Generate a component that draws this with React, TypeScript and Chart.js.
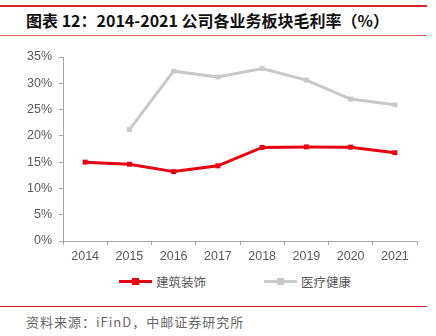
import React, { useEffect, useRef } from 'react';
import { Chart, registerables } from 'chart.js';

Chart.register(...registerables);

const years = ['2014', '2015', '2016', '2017', '2018', '2019', '2020', '2021'];
const construction = [15.0, 14.6, 13.2, 14.3, 17.8, 17.9, 17.85, 16.8];
const healthcare = [null, 21.2, 32.3, 31.2, 32.8, 30.6, 27.0, 25.9];
const seriesNames = ['建筑装饰', '医疗健康'];
const yMin = 0;
const yMax = 35;
const yStep = 5;
const titleText = '图表 12：2014-2021 公司各业务板块毛利率（%）';
const sourceText = '资料来源：iFinD，中邮证券研究所';

const RED = '#e60012';
const GRAY = '#c9c9c9';
const AXIS = '#a6a6a6';
const TEXT = '#595959';

function LegendIcon({ color }: { color: string }) {
  return (
    <span style={{ position: 'relative', display: 'inline-block', width: 33, height: 9, marginRight: 4 }}>
      <span style={{ position: 'absolute', left: 0, top: 3, width: 33, height: 3, background: color }} />
      <span style={{ position: 'absolute', left: 13, top: 1, width: 7, height: 7, background: color }} />
    </span>
  );
}

export default function App() {
  const ref = useRef<HTMLCanvasElement | null>(null);

  useEffect(() => {
    if (!ref.current) return;
    const chart = new Chart(ref.current, {
      type: 'line',
      data: {
        labels: years,
        datasets: [
          {
            label: seriesNames[0],
            data: construction,
            borderColor: RED,
            backgroundColor: RED,
            borderWidth: 3,
            pointStyle: 'rect',
            pointRadius: 3.5,
            pointBorderWidth: 0,
            tension: 0,
          },
          {
            label: seriesNames[1],
            data: healthcare,
            borderColor: GRAY,
            backgroundColor: GRAY,
            borderWidth: 3,
            pointStyle: 'rect',
            pointRadius: 3.5,
            pointBorderWidth: 0,
            tension: 0,
          },
        ],
      },
      options: {
        responsive: false,
        animation: false,
        layout: { padding: { top: 17, right: 19, bottom: 0, left: 0 } },
        plugins: {
          legend: { display: false },
          tooltip: { enabled: false },
        },
        scales: {
          x: {
            offset: true,
            grid: {
              display: true,
              drawOnChartArea: false,
              drawTicks: true,
              tickLength: 4,
              color: AXIS,
              offset: true,
            },
            border: { display: true, color: AXIS, width: 1 },
            ticks: {
              color: TEXT,
              padding: 4,
              maxRotation: 0,
              font: { family: '"Liberation Sans", Arial, sans-serif', size: 12.5 },
            },
            afterFit: (scale: any) => {
              scale.height = 29;
            },
          },
          y: {
            min: yMin,
            max: yMax,
            ticks: {
              stepSize: yStep,
              color: TEXT,
              padding: 7,
              font: { family: '"Liberation Sans", Arial, sans-serif', size: 12.5 },
              callback: (v: any) => v + '%',
            },
            grid: {
              display: true,
              drawOnChartArea: false,
              drawTicks: true,
              tickLength: 4,
              color: AXIS,
            },
            border: { display: true, color: AXIS, width: 1 },
            afterFit: (scale: any) => {
              scale.width = 63;
            },
          },
        },
      },
    });
    return () => chart.destroy();
  }, []);

  const cjk = '"Noto Sans CJK SC", "Noto Sans", sans-serif';

  return (
    <div style={{ position: 'absolute', left: 0, top: 0, width: 436, height: 336, background: '#fff', overflow: 'hidden' }}>
      <div style={{ position: 'absolute', left: 0, top: 5, width: 427, height: 2, background: '#d7262b' }} />
      <div
        style={{
          position: 'absolute',
          left: 26,
          top: 9,
          height: 22,
          lineHeight: '22px',
          fontFamily: cjk,
          fontWeight: 700,
          fontSize: 16,
          color: '#111',
          whiteSpace: 'nowrap',
        }}
      >
        {titleText}
      </div>
      <div style={{ position: 'absolute', left: 0, top: 35, width: 427, height: 1, background: '#e06060' }} />

      <canvas ref={ref} width={436} height={230} style={{ position: 'absolute', left: 0, top: 40, width: 436, height: 230 }} />

      <div style={{ position: 'absolute', left: 119, top: 272, height: 18, display: 'flex', alignItems: 'center', fontFamily: cjk, fontSize: 12.5, color: TEXT, whiteSpace: 'nowrap' }}>
        <LegendIcon color={RED} />
        <span>{seriesNames[0]}</span>
      </div>
      <div style={{ position: 'absolute', left: 264, top: 272, height: 18, display: 'flex', alignItems: 'center', fontFamily: cjk, fontSize: 12.5, color: TEXT, whiteSpace: 'nowrap' }}>
        <LegendIcon color={GRAY} />
        <span>{seriesNames[1]}</span>
      </div>

      <div style={{ position: 'absolute', left: 0, top: 306, width: 427, height: 1, background: '#d7262b' }} />
      <div
        style={{
          position: 'absolute',
          left: 26,
          top: 313,
          height: 18,
          lineHeight: '18px',
          fontFamily: cjk,
          fontSize: 13,
          letterSpacing: 1,
          color: '#666',
          whiteSpace: 'nowrap',
        }}
      >
        {sourceText}
      </div>
    </div>
  );
}
